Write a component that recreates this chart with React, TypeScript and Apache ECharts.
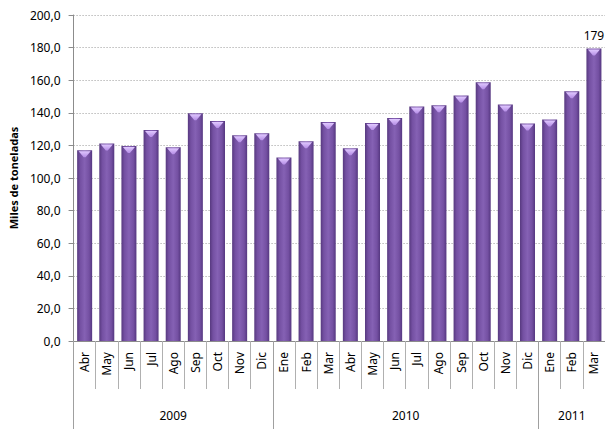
import React, { useEffect, useRef } from "react";
import * as echarts from "echarts";

const months = [
  "Abr", "May", "Jun", "Jul", "Ago", "Sep", "Oct", "Nov", "Dic",
  "Ene", "Feb", "Mar", "Abr", "May", "Jun", "Jul", "Ago", "Sep", "Oct", "Nov", "Dic",
  "Ene", "Feb", "Mar",
];
const values = [
  117.1, 121.2, 119.6, 129.4, 118.9, 139.8, 134.9, 126.2, 127.4,
  112.6, 122.5, 134.3, 118.3, 133.7, 136.8, 143.9, 144.7, 150.6, 158.8, 145.1, 133.4,
  135.9, 153.2, 179.4,
];
const years = ["2009", "2010", "2011"];
const yearBoundaries = [0, 9, 21, 24];
const labelledIndex = 23;
const yTicks = { min: 0, max: 200, interval: 20 };

const FONT = "'Noto Sans', sans-serif";

export default function App() {
  const ref = useRef<HTMLDivElement>(null);
  useEffect(() => {
    if (!ref.current) return;
    const chart = echarts.init(ref.current, null, { renderer: "svg" });
    const yearCenters = years.map((_, i) => (yearBoundaries[i] + yearBoundaries[i + 1]) / 2);
    const barColor = new echarts.graphic.LinearGradient(0, 0, 1, 0, [
      { offset: 0, color: "#57397f" },
      { offset: 0.2, color: "#7450a2" },
      { offset: 0.5, color: "#8561b4" },
      { offset: 0.8, color: "#7450a2" },
      { offset: 1, color: "#553780" },
    ]);
    const capColor = new echarts.graphic.LinearGradient(0, 0, 0, 1, [
      { offset: 0, color: "#e0c8ff" },
      { offset: 1, color: "#b58de6" },
    ]);
    chart.setOption({
      animation: false,
      grid: { left: 72, top: 15, width: 535, bottom: 88, containLabel: false },
      xAxis: [
        {
          type: "category",
          data: months,
          position: "bottom",
          boundaryGap: true,
          axisLine: { show: true, lineStyle: { color: "#8c8c8c", width: 1 } },
          axisTick: { show: true, interval: 0, length: 48, lineStyle: { color: "#b0b0b0" } },
          axisLabel: {
            interval: 0,
            rotate: 90,
            margin: 11,
            fontFamily: FONT,
            fontSize: 12,
            color: "#000",
          },
          splitLine: { show: false },
        },
        {
          type: "value",
          min: 0,
          max: 24,
          position: "bottom",
          axisLine: { show: false },
          splitLine: { show: false },
          axisTick: {
            show: true,
            customValues: yearBoundaries,
            length: 95,
            lineStyle: { color: "#a0a0a0" },
          },
          axisLabel: {
            customValues: yearCenters,
            margin: 68,
            fontFamily: FONT,
            fontSize: 12,
            color: "#000",
            formatter: (v: number) => {
              const i = yearCenters.indexOf(v);
              return i >= 0 ? years[i] : "";
            },
          },
        },
      ],
      yAxis: {
        type: "value",
        min: yTicks.min,
        max: yTicks.max,
        interval: yTicks.interval,
        name: "Miles de toneladas",
        nameLocation: "middle",
        nameGap: 53,
        nameRotate: 90,
        nameTextStyle: { fontFamily: FONT, fontSize: 11, fontWeight: "bold", color: "#000" },
        axisLine: { show: true, lineStyle: { color: "#8c8c8c" } },
        axisTick: { show: true, length: 5, lineStyle: { color: "#8c8c8c" } },
        axisLabel: {
          margin: 13,
          fontFamily: FONT,
          fontSize: 12,
          color: "#000",
          formatter: (v: number) => v.toFixed(1).replace(".", ","),
        },
        splitLine: { show: true, lineStyle: { color: "#9a9a9a", type: [1, 2], width: 1 } },
      },
      series: [
        {
          type: "bar",
          xAxisIndex: 0,
          barWidth: 15,
          itemStyle: { color: barColor },
          data: values.map((v, i) =>
            i === labelledIndex
              ? {
                  value: v,
                  label: {
                    show: true,
                    position: "top",
                    distance: 7,
                    fontFamily: FONT,
                    fontSize: 12,
                    color: "#000",
                    formatter: () => String(Math.round(v)),
                  },
                }
              : v
          ),
        },
        {
          type: "scatter",
          xAxisIndex: 0,
          silent: true,
          symbol: "path://M0,0 L12,0 L7,6 L5,6 Z",
          symbolSize: [12, 6],
          symbolOffset: [0, 4],
          itemStyle: { color: capColor, opacity: 1 },
          data: values,
          z: 3,
        },
      ],
    });
    return () => chart.dispose();
  }, []);
  return (
    <div
      ref={ref}
      style={{ position: "fixed", left: 0, top: 0, width: 605, height: 429, background: "#fff" }}
    />
  );
}
